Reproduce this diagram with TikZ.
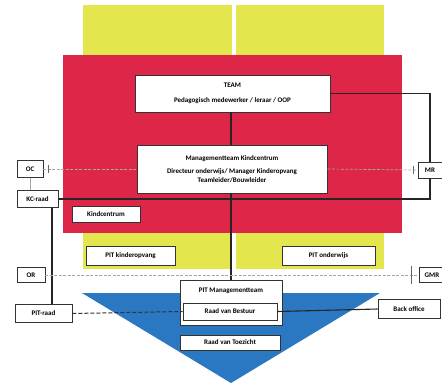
\documentclass[tikz,border=0pt]{standalone}
\usepackage{fontspec}
\setmainfont{Carlito}
\begin{document}
\begin{tikzpicture}[x=1pt,y=-1pt,
  box/.style={draw=black!80,line width=0.8pt,fill=white,inner sep=1pt,font=\bfseries\fontsize{7}{8.5}\selectfont,align=center},
  conn/.style={draw=black!85,line width=1.1pt},
  dconn/.style={draw=black!80,line width=1pt,dash pattern=on 4pt off 2pt},
  gconn/.style={draw=black!35,line width=0.7pt,dash pattern=on 3pt off 1.5pt},
  thin/.style={draw=black!35,line width=0.7pt}]
\definecolor{kcred}{HTML}{DE2648}
\definecolor{kcyellow}{HTML}{E3E64C}
\definecolor{kcblue}{HTML}{2A78C2}
\useasboundingbox (0,0) rectangle (442,383);
\fill[white] (0,0) rectangle (442,383);
% yellow columns
\fill[kcyellow] (83,5) rectangle (232,269);
\fill[kcyellow] (236,5) rectangle (384,269);
% red block
\fill[kcred] (63,55) rectangle (402,233);
% blue triangle
\fill[kcblue] (82,293) -- (380,293) -- (231,383) -- cycle;

% nodes
\node[box,minimum width=195pt,minimum height=37pt] (team) at (232.5,93.5) {TEAM\\[6pt]Pedagogisch medewerker / leraar / OOP};
\node[box,minimum width=190pt,minimum height=48pt] (mt) at (232,169) {Managementteam Kindcentrum\\[5pt]Directeur onderwijs/ Manager Kinderopvang\\Teamleider/Bouwleider};
\node[box,minimum width=68pt,minimum height=16pt] (kc) at (106,214) {Kindcentrum};
\node[box,minimum width=89pt,minimum height=19pt] (pitko) at (130.5,255.5) {PIT kinderopvang};
\node[box,minimum width=93pt,minimum height=19pt] (pitow) at (328.5,255.5) {PIT onderwijs};
\node[box,minimum width=26pt,minimum height=17pt] (oc) at (30,169) {OC};
\node[box,minimum width=41pt,minimum height=17pt] (kcraad) at (37.5,199) {KC-raad};
\node[box,minimum width=24pt,minimum height=16pt] (mr) at (430,170) {MR};
\node[box,minimum width=28pt,minimum height=15pt] (or) at (31,275) {OR};
\node[box,minimum width=26pt,minimum height=15pt] (gmr) at (432,275) {GMR};
\node[box,minimum width=57pt,minimum height=18pt] (pitraad) at (43.5,313.5) {PIT-raad};
\node[box,minimum width=62pt,minimum height=19pt] (back) at (409,309) {Back office};
\node[box,minimum width=102pt,minimum height=45pt,anchor=north] (pitmt) at (231,280) {};
\node[font=\bfseries\fontsize{7}{8.5}\selectfont] at (231,290.5) {PIT Managementteam};
\node[box,minimum width=94pt,minimum height=17pt] (rvb) at (230,311.5) {Raad van Bestuur};
\node[box,minimum width=100pt,minimum height=15pt] (rvt) at (230,342.5) {Raad van Toezicht};

% connectors
\draw[conn] (team.south -| pitmt.north) -- (mt.north -| pitmt.north);
\draw[conn] (mt.south -| pitmt.north) -- (pitmt.north);
\draw[conn] (team.east) -| (mr.north);
\draw[gconn] (mt.east) -- (mr.west);
\draw[gconn] (oc.east) -- (mt.west);
\draw[thin] (oc.south) -- (kcraad.north -| oc.south);
\draw[conn] (kcraad.east) -| (mr.south);
\coordinate (kcr) at (52,0);
\draw[conn] (kcraad.south -| kcr) -- (pitraad.north -| kcr);
\draw[dconn] (pitraad.east) -- (rvb.west);
\draw[conn] (rvb.east) -- (back.west);
\draw[gconn] (or.east) -- (gmr.west);
% small ticks
\coordinate (t1) at (48,169);
\draw[black!60,line width=0.6pt] ([yshift=-4pt]t1) -- ([yshift=4pt]t1);
\coordinate (t2) at (413,170);
\draw[black!60,line width=0.6pt] ([yshift=-4pt]t2) -- ([yshift=4pt]t2);
\coordinate (t3) at (411,275);
\draw[black!60,line width=0.6pt] ([yshift=-9pt]t3) -- ([yshift=9pt]t3);
\end{tikzpicture}
\end{document}
